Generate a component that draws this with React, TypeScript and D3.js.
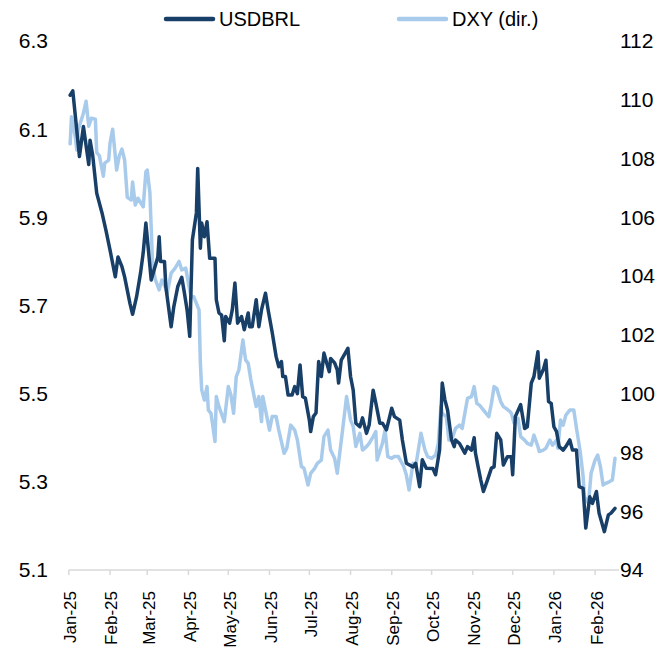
import React from 'react';
import * as d3 from 'd3';

// USDBRL, left axis
const brlDates = [
  '2025-01-02', '2025-01-04', '2025-01-09', '2025-01-12', '2025-01-16', '2025-01-17', '2025-01-19', '2025-01-22',
  '2025-01-26', '2025-01-29', '2025-02-01', '2025-02-05', '2025-02-07', '2025-02-10', '2025-02-12', '2025-02-16',
  '2025-02-18', '2025-02-21', '2025-02-24', '2025-02-26', '2025-02-28', '2025-03-04', '2025-03-09', '2025-03-10',
  '2025-03-11', '2025-03-14', '2025-03-15', '2025-03-19', '2025-03-21', '2025-03-24', '2025-03-27', '2025-03-29',
  '2025-03-31', '2025-04-02', '2025-04-04', '2025-04-07', '2025-04-08', '2025-04-10', '2025-04-11', '2025-04-13',
  '2025-04-15', '2025-04-17', '2025-04-21', '2025-04-22', '2025-04-24', '2025-04-26', '2025-04-28', '2025-04-29',
  '2025-05-02', '2025-05-04', '2025-05-06', '2025-05-08', '2025-05-11', '2025-05-13', '2025-05-16', '2025-05-17',
  '2025-05-19', '2025-05-22', '2025-05-24', '2025-05-26', '2025-05-29', '2025-05-31', '2025-06-03', '2025-06-06',
  '2025-06-08', '2025-06-10', '2025-06-11', '2025-06-13', '2025-06-15', '2025-06-18', '2025-06-20', '2025-06-22',
  '2025-06-24', '2025-06-26', '2025-06-28', '2025-07-01', '2025-07-02', '2025-07-04', '2025-07-06', '2025-07-08',
  '2025-07-10', '2025-07-12', '2025-07-14', '2025-07-16', '2025-07-17', '2025-07-20', '2025-07-22', '2025-07-23',
  '2025-07-25', '2025-07-28', '2025-07-30', '2025-08-01', '2025-08-03', '2025-08-05', '2025-08-08', '2025-08-10',
  '2025-08-13', '2025-08-15', '2025-08-18', '2025-08-20', '2025-08-23', '2025-08-25', '2025-08-28', '2025-09-01',
  '2025-09-03', '2025-09-07', '2025-09-09', '2025-09-12', '2025-09-17', '2025-09-19', '2025-09-22', '2025-09-24',
  '2025-09-27', '2025-10-02', '2025-10-04', '2025-10-07', '2025-10-09', '2025-10-11', '2025-10-13', '2025-10-16',
  '2025-10-18', '2025-10-19', '2025-10-22', '2025-10-26', '2025-10-28', '2025-10-31', '2025-11-02', '2025-11-03',
  '2025-11-05', '2025-11-07', '2025-11-09', '2025-11-12', '2025-11-15', '2025-11-17', '2025-11-19', '2025-11-22',
  '2025-11-24', '2025-11-27', '2025-11-30', '2025-12-01', '2025-12-03', '2025-12-07', '2025-12-10', '2025-12-12',
  '2025-12-15', '2025-12-17', '2025-12-20', '2025-12-21', '2025-12-24', '2025-12-26', '2025-12-28', '2025-12-30',
  '2026-01-01', '2026-01-03', '2026-01-05', '2026-01-08', '2026-01-10', '2026-01-13', '2026-01-15', '2026-01-18',
  '2026-01-20', '2026-01-23', '2026-01-25', '2026-01-28', '2026-01-30', '2026-02-02', '2026-02-04', '2026-02-08',
  '2026-02-11', '2026-02-13', '2026-02-16',
];
const brlValues = [
  6.177, 6.187, 6.038, 6.106, 6.02, 6.075, 6.04, 5.955,
  5.91, 5.87, 5.826, 5.765, 5.81, 5.788, 5.765, 5.705,
  5.68, 5.72, 5.774, 5.82, 5.887, 5.758, 5.81, 5.856,
  5.8, 5.8, 5.743, 5.652, 5.697, 5.743, 5.764, 5.728,
  5.69, 5.63, 5.849, 5.91, 6.011, 5.83, 5.887, 5.856,
  5.89, 5.807, 5.807, 5.713, 5.683, 5.678, 5.62, 5.675,
  5.66, 5.69, 5.751, 5.66, 5.675, 5.645, 5.683, 5.652,
  5.652, 5.713, 5.652, 5.69, 5.728, 5.69, 5.64, 5.584,
  5.561, 5.573, 5.539, 5.539, 5.497, 5.497, 5.516, 5.5,
  5.565, 5.493, 5.49, 5.44, 5.414, 5.448, 5.456, 5.573,
  5.539, 5.592, 5.57, 5.55, 5.58, 5.57, 5.554, 5.524,
  5.576, 5.592, 5.603, 5.539, 5.508, 5.433, 5.425, 5.445,
  5.41, 5.429, 5.508, 5.479, 5.433, 5.433, 5.418, 5.467,
  5.448, 5.44, 5.395, 5.342, 5.334, 5.342, 5.289, 5.35,
  5.331, 5.33, 5.316, 5.372, 5.524, 5.486, 5.463, 5.395,
  5.38, 5.395, 5.387, 5.365, 5.38, 5.372, 5.4, 5.365,
  5.334, 5.304, 5.278, 5.304, 5.331, 5.334, 5.41, 5.395,
  5.338, 5.357, 5.357, 5.316, 5.448, 5.475, 5.421, 5.425,
  5.524, 5.539, 5.595, 5.535, 5.554, 5.576, 5.482, 5.478,
  5.425, 5.414, 5.38, 5.372, 5.38, 5.395, 5.372, 5.372,
  5.289, 5.285, 5.195, 5.266, 5.251, 5.278, 5.229, 5.187,
  5.225, 5.229, 5.24,
];

// DXY, right axis
const dxyDates = [
  '2025-01-02', '2025-01-03', '2025-01-06', '2025-01-07', '2025-01-08', '2025-01-12', '2025-01-14', '2025-01-16',
  '2025-01-18', '2025-01-21', '2025-01-22', '2025-01-24', '2025-01-27', '2025-01-28', '2025-01-31', '2025-02-01',
  '2025-02-03', '2025-02-06', '2025-02-08', '2025-02-10', '2025-02-12', '2025-02-14', '2025-02-17', '2025-02-18',
  '2025-02-20', '2025-02-22', '2025-02-26', '2025-02-28', '2025-03-01', '2025-03-03', '2025-03-05', '2025-03-07',
  '2025-03-10', '2025-03-12', '2025-03-15', '2025-03-16', '2025-03-19', '2025-03-22', '2025-03-25', '2025-03-27',
  '2025-03-30', '2025-04-01', '2025-04-03', '2025-04-05', '2025-04-08', '2025-04-09', '2025-04-10', '2025-04-11',
  '2025-04-13', '2025-04-15', '2025-04-16', '2025-04-18', '2025-04-21', '2025-04-22', '2025-04-24', '2025-04-28',
  '2025-05-01', '2025-05-03', '2025-05-05', '2025-05-07', '2025-05-09', '2025-05-12', '2025-05-14', '2025-05-16',
  '2025-05-18', '2025-05-20', '2025-05-22', '2025-05-24', '2025-05-26', '2025-05-27', '2025-05-30', '2025-06-01',
  '2025-06-03', '2025-06-06', '2025-06-08', '2025-06-12', '2025-06-14', '2025-06-17', '2025-06-20', '2025-06-22',
  '2025-06-25', '2025-06-27', '2025-06-30', '2025-07-02', '2025-07-05', '2025-07-07', '2025-07-10', '2025-07-12',
  '2025-07-15', '2025-07-17', '2025-07-20', '2025-07-22', '2025-07-26', '2025-07-29', '2025-08-01', '2025-08-03',
  '2025-08-05', '2025-08-08', '2025-08-10', '2025-08-13', '2025-08-15', '2025-08-18', '2025-08-20', '2025-08-21',
  '2025-08-25', '2025-08-27', '2025-08-29', '2025-09-01', '2025-09-03', '2025-09-06', '2025-09-10', '2025-09-12',
  '2025-09-14', '2025-09-17', '2025-09-19', '2025-09-21', '2025-09-23', '2025-09-26', '2025-09-28', '2025-10-01',
  '2025-10-04', '2025-10-06', '2025-10-08', '2025-10-09', '2025-10-12', '2025-10-14', '2025-10-17', '2025-10-19',
  '2025-10-22', '2025-10-24', '2025-10-28', '2025-10-31', '2025-11-02', '2025-11-04', '2025-11-06', '2025-11-08',
  '2025-11-11', '2025-11-13', '2025-11-15', '2025-11-17', '2025-11-19', '2025-11-22', '2025-11-24', '2025-11-26',
  '2025-11-29', '2025-11-30', '2025-12-02', '2025-12-05', '2025-12-07', '2025-12-10', '2025-12-12', '2025-12-15',
  '2025-12-17', '2025-12-20', '2025-12-21', '2025-12-24', '2025-12-26', '2025-12-29', '2025-12-31', '2026-01-03',
  '2026-01-04', '2026-01-06', '2026-01-08', '2026-01-10', '2026-01-13', '2026-01-16', '2026-01-18', '2026-01-19',
  '2026-01-21', '2026-01-23', '2026-01-24', '2026-01-27', '2026-01-29', '2026-02-01', '2026-02-03', '2026-02-05',
  '2026-02-07', '2026-02-09', '2026-02-12', '2026-02-14', '2026-02-16',
];
const dxyValues = [
  108.5, 109.42, 108.7, 108.29, 108.97, 109.54, 109.95, 109.1,
  109.37, 109.34, 108.2, 108.1, 107.4, 107.84, 107.95, 108.52,
  109.0, 107.61, 108.1, 108.32, 107.95, 106.68, 106.59, 107.2,
  106.42, 106.65, 106.36, 107.55, 107.61, 106.85, 104.44, 103.9,
  103.53, 103.87, 103.59, 103.41, 104.1, 104.27, 104.5, 104.21,
  104.27, 103.76, 103.3, 103.3, 102.96, 102.85, 101.03, 100.13,
  99.78, 100.24, 99.44, 99.33, 98.37, 99.9, 99.56, 99.05,
  100.24, 99.95, 99.33, 100.58, 100.81, 101.83, 101.15, 101.03,
  100.47, 100.01, 99.56, 99.9, 99.05, 99.9, 99.22, 98.76,
  99.22, 99.22, 98.76, 97.97, 98.14, 98.93, 98.76, 98.42,
  97.52, 97.46, 96.89, 97.29, 97.46, 97.63, 97.74, 98.54,
  98.76, 98.08, 97.8, 97.29, 98.76, 99.9, 99.1, 98.88,
  98.2, 98.65, 98.08, 98.2, 98.31, 98.54, 98.71, 97.74,
  98.31, 98.76, 97.86, 97.8, 97.86, 97.86, 97.52, 97.23,
  96.72, 97.63, 97.52, 98.08, 98.65, 98.08, 97.86, 97.8,
  97.91, 98.31, 99.56, 99.33, 99.22, 98.42, 98.54, 98.82,
  98.93, 98.82, 99.84, 99.9, 100.24, 99.67, 99.61, 99.5,
  99.33, 99.22, 99.67, 100.24, 100.18, 99.73, 99.56, 99.5,
  99.39, 99.33, 99.0, 99.16, 98.54, 98.42, 98.31, 98.25,
  98.59, 98.2, 98.03, 98.08, 98.14, 98.42, 98.25, 98.42,
  98.14, 99.1, 98.93, 99.27, 99.44, 99.44, 98.82, 98.54,
  97.97, 97.18, 96.49, 96.27, 97.29, 97.74, 97.91, 97.52,
  96.89, 96.95, 97.01, 97.06, 97.8,
];

const leftTicks = [5.1, 5.3, 5.5, 5.7, 5.9, 6.1, 6.3];
const rightTicks = [94, 96, 98, 100, 102, 104, 106, 108, 110, 112];
const monthTicks = [
  '2025-01-01', '2025-02-01', '2025-03-01', '2025-04-01', '2025-05-01', '2025-06-01', '2025-07-01',
  '2025-08-01', '2025-09-01', '2025-10-01', '2025-11-01', '2025-12-01', '2026-01-01', '2026-02-01',
];
const monthLabels = [
  'Jan-25', 'Feb-25', 'Mar-25', 'Apr-25', 'May-25', 'Jun-25', 'Jul-25',
  'Aug-25', 'Sep-25', 'Oct-25', 'Nov-25', 'Dec-25', 'Jan-26', 'Feb-26',
];
const seriesNames = ['USDBRL', 'DXY (dir.)'];

const DARK = '#183f68';
const LIGHT = '#a8cbec';
const FONT = '"Liberation Sans", Arial, sans-serif';
const NARROW = '"Liberation Sans Narrow", "Liberation Sans", Arial, sans-serif';

const parse = d3.utcParse('%Y-%m-%d');

export default function App() {
  const width = 671;
  const height = 650;

  const x = d3.scaleUtc()
    .domain([parse('2025-01-01'), parse('2026-02-19')])
    .range([68.8, 619]);
  const yLeft = d3.scaleLinear().domain([5.1, 6.3]).range([570, 41]);
  const yRight = d3.scaleLinear().domain([94, 112]).range([570, 41]);

  const brl = brlDates.map((d, i) => ({ date: parse(d), value: brlValues[i] }));
  const dxy = dxyDates.map((d, i) => ({ date: parse(d), value: dxyValues[i] }));

  const brlLine = d3.line().x(d => x(d.date)).y(d => yLeft(d.value));
  const dxyLine = d3.line().x(d => x(d.date)).y(d => yRight(d.value));

  const baseY = yLeft(5.1);

  return (
    <svg width={width} height={height} style={{ position: 'absolute', left: 0, top: 0, background: '#fff' }}>
      {/* legend */}
      <line x1={166} x2={213} y1={19} y2={19} stroke={DARK} strokeWidth={4.5} strokeLinecap="round" />
      <text x={219} y={26} fontFamily={NARROW} fontSize={20} fill="#000">{seriesNames[0]}</text>
      <line x1={399} x2={446} y1={19} y2={19} stroke={LIGHT} strokeWidth={4.5} strokeLinecap="round" />
      <text x={452} y={26} fontFamily={NARROW} fontSize={20} fill="#000">{seriesNames[1]}</text>

      {/* left axis labels */}
      {leftTicks.map(t => (
        <text key={'l' + t} x={48} y={yLeft(t)} dy="0.35em" textAnchor="end" fontFamily={NARROW} fontSize={21} fill="#000">
          {t.toFixed(1)}
        </text>
      ))}
      {/* right axis labels */}
      {rightTicks.map(t => (
        <text key={'r' + t} x={620} y={yRight(t)} dy="0.35em" textAnchor="start" fontFamily={NARROW} fontSize={21} fill="#000">
          {t}
        </text>
      ))}

      {/* x axis */}
      <line x1={x.range()[0]} x2={x.range()[1]} y1={baseY} y2={baseY} stroke="#d9d9d9" strokeWidth={1.5} />
      {monthTicks.map((m, i) => {
        const px = x(parse(m));
        return (
          <g key={m}>
            <line x1={px} x2={px} y1={baseY} y2={baseY + 5} stroke="#d9d9d9" strokeWidth={1.5} />
            <text
              transform={`translate(${px + 1.5},${baseY + 21}) rotate(-90)`}
              dy="0.35em"
              textAnchor="end"
              fontFamily={FONT}
              fontSize={17}
              fill="#000"
            >
              {monthLabels[i]}
            </text>
          </g>
        );
      })}

      {/* series */}
      <path d={dxyLine(dxy)} fill="none" stroke={LIGHT} strokeWidth={3.5} strokeLinejoin="round" strokeLinecap="round" />
      <path d={brlLine(brl)} fill="none" stroke={DARK} strokeWidth={3.5} strokeLinejoin="round" strokeLinecap="round" />
    </svg>
  );
}
